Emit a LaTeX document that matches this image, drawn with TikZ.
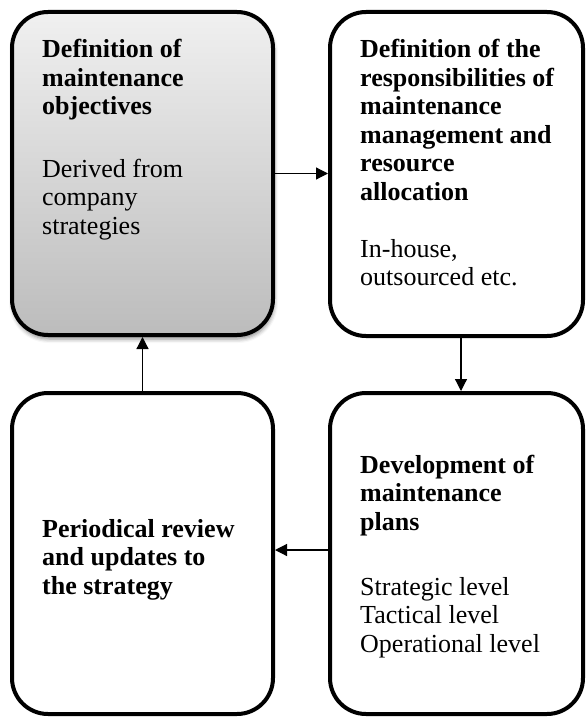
\documentclass[tikz,border=0pt]{standalone}
\usepackage{fontspec}
\setmainfont{Liberation Serif}
\usetikzlibrary{arrows.meta,shadows.blur}

\definecolor{shadetop}{RGB}{240,240,240}
\definecolor{shadebottom}{RGB}{188,188,188}

\tikzset{
  stagebox/.style={draw=black, line width=4pt, rounded corners=36pt,
    rectangle, inner sep=0pt, fill=white},
  headtext/.style={anchor=base west, inner sep=0pt,
    font=\fontsize{26}{28.5}\selectfont\bfseries},
  bodytext/.style={anchor=base west, inner sep=0pt,
    font=\fontsize{26}{28.5}\selectfont},
  flow/.style={line width=1.2pt, -{Triangle[length=12pt,width=12pt]}},
}

\newcommand{\lines}[1]{\parbox[t]{240pt}{\raggedright #1}}

\begin{document}
\begin{tikzpicture}[x=1pt, y=-1pt]
\useasboundingbox (0,0) rectangle (587,717);

% the four stages of the maintenance strategy cycle
\node[stagebox, minimum width=261pt, minimum height=323pt,
      top color=shadetop, bottom color=shadebottom,
      blur shadow={shadow xshift=1pt, shadow yshift=-4pt,
                   shadow blur radius=4pt, shadow opacity=45}]
      (obj) at (142.5,173.5) {};
\node[stagebox, minimum width=253pt, minimum height=324pt]
      (resp) at (456.5,174) {};
\node[stagebox, minimum width=261pt, minimum height=321pt]
      (review) at (142.5,553.5) {};
\node[stagebox, minimum width=253pt, minimum height=321pt]
      (plans) at (456.5,553.5) {};

% texts
\node[headtext] (objhead) at (42,58)
  {\lines{Definition of\\maintenance\\objectives}};
\node[bodytext] (objbody) at (42,177)
  {\lines{Derived from\\company\\strategies}};

\node[headtext] (resphead) at (360,58)
  {\lines{Definition of the\\responsibilities of\\maintenance\\management and\\resource\\allocation}};
\node[bodytext] (respbody) at (360,257)
  {\lines{In-house,\\outsourced etc.}};

\node[headtext] (reviewhead) at (42,537)
  {\lines{Periodical review\\and updates to\\the strategy}};

\node[headtext] (planshead) at (360,473)
  {\lines{Development of\\maintenance\\plans}};
\node[bodytext] (plansbody) at (360,595)
  {\lines{Strategic level\\Tactical level\\Operational level}};

% connectors
\draw[flow] (obj.east) -- (obj.east -| resp.west);
\draw[flow] ([xshift=4.5pt]resp.south) -- ([xshift=4.5pt]resp.south |- plans.north);
\draw[flow] ([yshift=3.5pt]plans.west) -- ([yshift=3.5pt]plans.west -| review.east);
\draw[flow] (review.north) -- (review.north |- obj.south);
\end{tikzpicture}
\end{document}
